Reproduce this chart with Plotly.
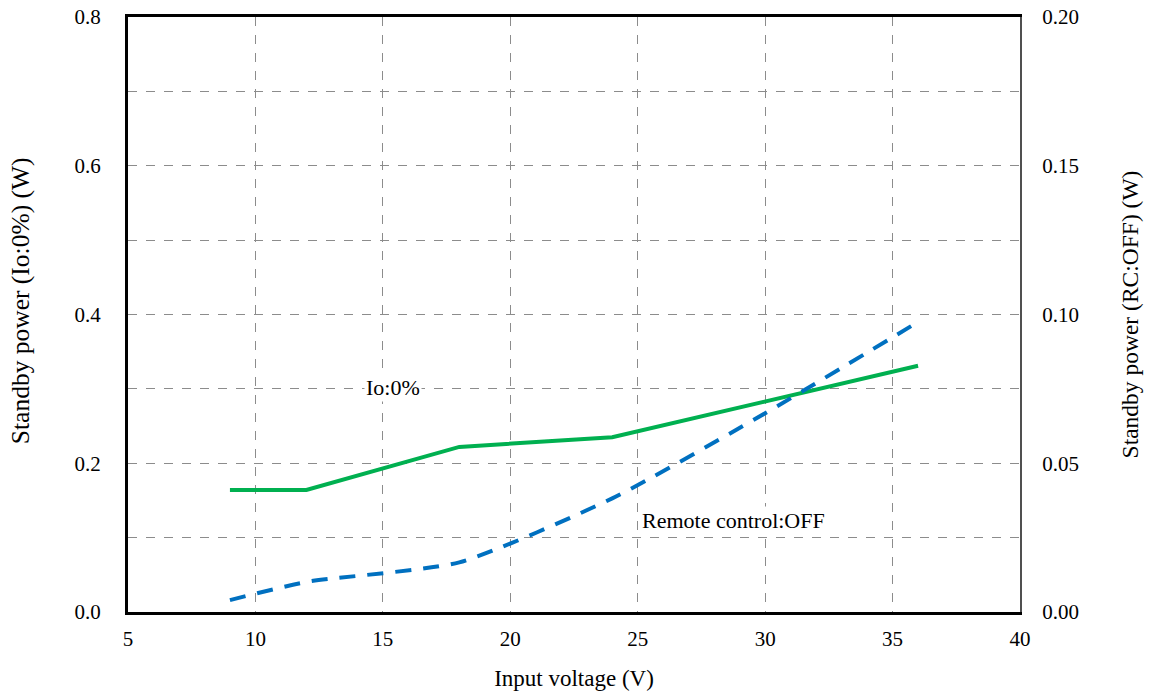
import plotly.graph_objects as go

# Data
voltage_io = [9, 12, 18, 24, 36]
power_io = [0.164, 0.164, 0.222, 0.235, 0.331]

voltage_rc = [9, 12, 18, 24, 30, 36]
power_rc = [0.004, 0.0101, 0.0167, 0.0382, 0.0668, 0.0975]

x_ticks = [5, 10, 15, 20, 25, 30, 35, 40]
y1_ticks = [0.0, 0.2, 0.4, 0.6, 0.8]
y2_ticks = [0.00, 0.05, 0.10, 0.15, 0.20]

FONT = "Liberation Serif, Times New Roman, serif"
TICK = dict(family=FONT, size=21, color="black")
XTITLE = dict(family=FONT, size=23, color="black")

fig = go.Figure()
fig.add_trace(go.Scatter(x=voltage_io, y=power_io, mode="lines",
                         line=dict(color="#00B050", width=4), yaxis="y",
                         showlegend=False, name="Io:0%"))
fig.add_trace(go.Scatter(x=voltage_rc, y=power_rc, mode="lines",
                         line=dict(color="#0070C0", width=4, dash="16px,12px",
                                   shape="spline", smoothing=0.6),
                         yaxis="y2", showlegend=False, name="Remote control:OFF"))

fig.add_annotation(x=15.4, y=0.302, xref="x", yref="y", text="Io:0%",
                   showarrow=False, bgcolor="white",
                   font=dict(family=FONT, size=22, color="black"))
fig.add_annotation(x=28.75, y=0.1235, xref="x", yref="y", text="Remote control:OFF",
                   showarrow=False, bgcolor="white",
                   font=dict(family=FONT, size=22, color="black"))
# left axis title (placed as annotation to match position)
fig.add_annotation(x=-0.1211, y=0.524, xref="paper", yref="paper",
                   text="Standby power (Io:0%) (W)", textangle=-90,
                   showarrow=False, xanchor="center", yanchor="middle",
                   font=dict(family=FONT, size=25.5, color="black"))

grid = dict(showgrid=True, gridcolor="#8c8c8c", griddash="dash", gridwidth=1.3)

fig.update_layout(
    width=1150, height=695,
    margin=dict(l=128, r=130, t=17, b=83),
    paper_bgcolor="white", plot_bgcolor="white",
    font=dict(family=FONT, size=20, color="black"),
    xaxis=dict(range=[5, 40], tickvals=x_ticks, ticktext=[str(v) for v in x_ticks],
               showline=True, linecolor="black", linewidth=3, mirror=True,
               ticks="", zeroline=False, tickfont=TICK, ticklabelstandoff=6,
               automargin=False,
               title=dict(text="Input voltage (V)", standoff=20, font=XTITLE),
               **grid),
    yaxis=dict(range=[0, 0.8], tickvals=y1_ticks,
               ticktext=[f"{v:.1f}" for v in y1_ticks],
               showline=True, linecolor="black", linewidth=3,
               ticks="", zeroline=False, tickfont=TICK, ticklabelstandoff=20,
               automargin=False,
               minor=dict(showgrid=True, gridcolor="#8c8c8c", griddash="dash",
                          gridwidth=1.3, dtick=0.1, tick0=0),
               **grid),
    yaxis2=dict(range=[0, 0.2], tickvals=y2_ticks,
                ticktext=[f"{v:.2f}" for v in y2_ticks],
                overlaying="y", side="right",
                showline=True, linecolor="#505050", linewidth=2,
                showgrid=False, ticks="", zeroline=False, tickfont=TICK,
                ticklabelstandoff=16, automargin=False,
                title=dict(text="Standby power (RC:OFF) (W)", standoff=44,
                           font=dict(family=FONT, size=23.5, color="black"))),
)

fig.write_html("out.html")
